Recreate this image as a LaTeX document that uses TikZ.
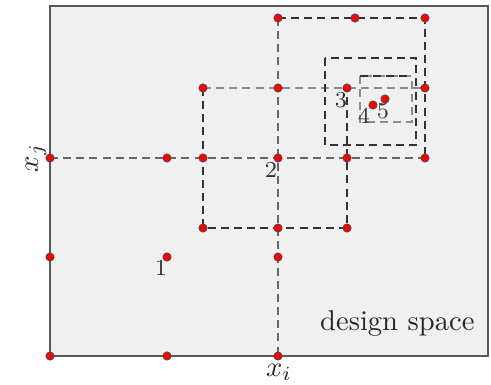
\documentclass[tikz,border=0pt]{standalone}
\begin{document}
\begin{tikzpicture}[x=0.35pt,y=-0.35pt,
  dot/.style={circle,fill=red,draw=black!70,line width=0.25pt,inner sep=0pt,minimum size=2.9pt},
  dk/.style={dashed,dash pattern=on 2.8pt off 1.8pt,line width=0.55pt,draw=black!80},
  md/.style={dashed,dash pattern=on 2.8pt off 1.8pt,line width=0.55pt,draw=black!60},
  lt/.style={dashed,dash pattern=on 2.8pt off 1.8pt,line width=0.55pt,draw=black!45},
  lab/.style={font=\footnotesize,inner sep=0pt,text=black!80}]
\useasboundingbox (0,0) rectangle (491,384);
% design space
\draw[fill=black!6,draw=black!65,line width=0.7pt] (50,6) coordinate (bl) rectangle (488,356) coordinate (tr);
% coordinates
\coordinate (a1) at (50,356);  \coordinate (a2) at (167,356); \coordinate (a3) at (278,356);
\coordinate (b1) at (50,257);  \coordinate (b2) at (167,257); \coordinate (b3) at (278,257);
\coordinate (c1) at (50,158);  \coordinate (c2) at (167,158); \coordinate (c3) at (203,158);
\coordinate (c4) at (278,158); \coordinate (c5) at (347,158); \coordinate (c6) at (425,158);
\coordinate (d1) at (203,228); \coordinate (d2) at (278,228); \coordinate (d3) at (347,228);
\coordinate (e1) at (203,88);  \coordinate (e2) at (278,88);  \coordinate (e3) at (347,88);
\coordinate (e4) at (425,88);
\coordinate (f1) at (278,18);  \coordinate (f2) at (355,18);  \coordinate (f3) at (425,18);
\coordinate (g1) at (373,105); \coordinate (g2) at (385,99);
% dashed lines
\draw[md] (c1) -- (c6);
\draw[md] (f1) -- (a3);
\draw[lt] (e1) -- (e4);
\draw[dk] (e1) -- (d1) -- (d3) -- (e3);
\draw[dk] (f1) -- (f3) -- (c6);
\draw[dk] (325,58) rectangle (416,145);
\draw[lt] (360,76) rectangle (412,122);
\draw[dk] (360,76) -- (412,76);
% dots
\foreach \p in {a1,a2,a3,b1,b2,b3,c1,c2,c3,c4,c5,c6,d1,d2,d3,e1,e2,e3,e4,f1,f2,f3,g1,g2}
  \node[dot] (n\p) at (\p) {};
% labels
\node[lab] at (161,268) {1};
\node[lab] at (271,170) {2};
\node[lab] at (341,100) {3};
\node[lab] at (364,116) {4};
\node[lab] at (383,111) {5};
\node[font=\normalsize,text=black!85] (xi) at (279,372) {$x_i$};
\node[font=\normalsize,text=black!85,rotate=90] (xj) at (36,158) {$x_j$};
\node[font=\normalsize,text=black!85,anchor=base east,inner sep=0pt] (ds) at (475,330) {design space};
\end{tikzpicture}
\end{document}
